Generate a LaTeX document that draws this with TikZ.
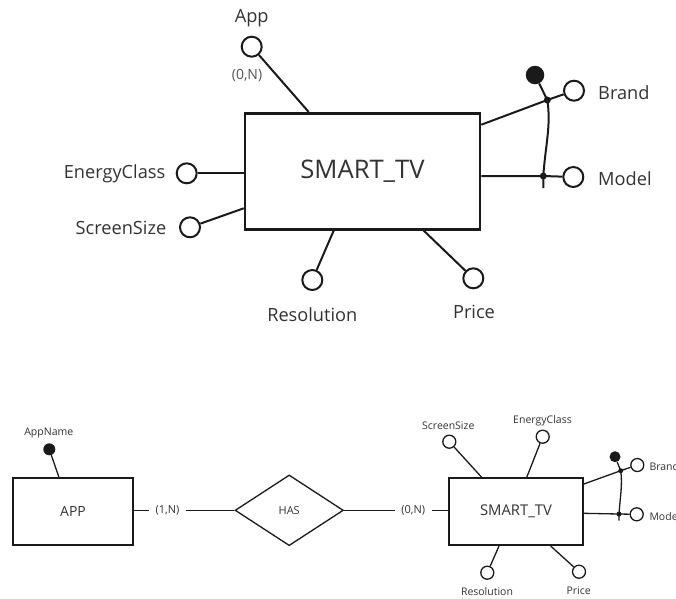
\documentclass[tikz,border=0pt]{standalone}
\usepackage{fontspec}
\setmainfont{Open Sans}
\usetikzlibrary{calc,shapes.geometric}
\definecolor{ink}{HTML}{1A1A1A}
\definecolor{txt}{HTML}{333333}
\definecolor{cardtxt}{HTML}{555555}

\begin{document}
\begin{tikzpicture}[x=1pt,y=-1pt,
  % large schema
  entA/.style={draw=ink, line width=2.6pt, inner sep=0pt, text=txt,
    minimum width=235pt, minimum height=116pt, font=\fontsize{25.6}{28}\selectfont},
  attA/.style={circle, draw=ink, line width=2pt, fill=white, inner sep=0pt, minimum size=20pt},
  keyA/.style={circle, fill=ink, inner sep=0pt, minimum size=18.5pt},
  dotA/.style={circle, fill=ink, inner sep=0pt, minimum size=7pt},
  lblA/.style={text=txt, inner sep=0pt, font=\fontsize{18.2}{21}\selectfont},
  lnkA/.style={draw=ink, line width=2pt},
  % small schema
  entB/.style={draw=ink, line width=2pt, inner sep=0pt, text=txt},
  attB/.style={circle, draw=ink, line width=1.3pt, fill=white, inner sep=0pt, minimum size=13pt},
  keyB/.style={circle, fill=ink, inner sep=0pt, minimum size=12pt},
  dotB/.style={circle, fill=ink, inner sep=0pt, minimum size=5pt},
  lblB/.style={text=txt, inner sep=0pt, font=\fontsize{10.5}{12}\selectfont},
  lnkB/.style={draw=ink, line width=1.3pt},
  cardB/.style={fill=white, text=txt, inner xsep=7pt, inner ysep=2pt, font=\fontsize{11}{13}\selectfont}
]
\clip (0,0) rectangle (676,598);
\fill[white] (0,0) rectangle (676,598);

%% ---------- SMART_TV, detailed ----------
\node[entA] (tv) at (362.5,171.3) {SMART\_TV};

\node[attA] (app) at (251.7,46.7) {};
\node[lblA] (appL) at (251.7,18.3) {App};
\node[text=cardtxt, inner sep=0pt, font=\fontsize{14}{16}\selectfont] (appC) at (247,75.5) {(0,N)};
\draw[lnkA] (app) -- ($(tv.north west)+(65,0)$);

\node[attA] (en) at (186.7,173.3) {};
\node[lblA, anchor=east] (enL) at (165.5,174) {EnergyClass};
\draw[lnkA] (en) -- (tv.west |- en);

\node[attA] (ss) at (190,227.3) {};
\node[lblA, anchor=east] (ssL) at (166.5,227.5) {ScreenSize};
\draw[lnkA] (ss) -- ($(tv.west)+(0,37)$);

\node[attA] (res) at (312.3,280) {};
\node[lblA] (resL) at (312.3,315) {Resolution};
\draw[lnkA] (res) -- ($(tv.south west)+(90,0)$);

\node[attA] (pr) at (473.3,278.3) {};
\node[lblA] (prL) at (474,311.7) {Price};
\draw[lnkA] (pr) -- ($(tv.south west)+(180,0)$);

\node[dotA] (bj) at (547.3,100) {};
\node[dotA] (mj) at (543.3,176) {};
\node[keyA] (key) at (535,75) {};
\node[attA] (br) at (574,90.7) {};
\node[lblA, anchor=west] (brL) at (598,92.7) {Brand};
\node[attA] (mo) at (573.3,177) {};
\node[lblA, anchor=west] (moL) at (598,178.5) {Model};
\draw[lnkA] ($(tv.north east)+(0,12.7)$) -- (bj.center);
\draw[lnkA] (key) -- (bj.center) -- (br);
\draw[lnkA] (tv.east |- mj) -- (mj.center) -- (mo);
\draw[lnkA] (bj.center) .. controls +(4,25) and +(2,-30) .. (mj.center) -- ++(0,12);

%% ---------- APP -- HAS -- SMART_TV ----------
\node[entB, minimum width=119.4pt, minimum height=66.7pt, font=\fontsize{14}{16}\selectfont] (app2) at (73,511.7) {APP};
\node[keyB] (an) at (49.3,449.3) {};
\node[lblB] (anL) at (48.8,433.3) {AppName};
\draw[lnkB] (an) -- ($(app2.north west)+(46.7,0)$);

\node[draw=ink, line width=1.3pt, diamond, inner sep=0pt, minimum width=108.3pt, minimum height=70.7pt,
  text=txt, font=\fontsize{11}{13}\selectfont] (has) at (289.2,510.3) {HAS};

\node[entB, minimum width=133.4pt, minimum height=66.7pt, font=\fontsize{14.8}{17}\selectfont] (tv2) at (516,511.7) {SMART\_TV};

\draw[lnkB] (app2.east |- has) -- (has.west) node[cardB, pos=0.335] {(1,N)};
\draw[lnkB] (has.east) -- (tv2.west |- has) node[cardB, pos=0.664, inner xsep=6.5pt] {(0,N)};

\node[attB] (ss2) at (449.3,441.7) {};
\node[lblB] (ss2L) at (448.3,426) {ScreenSize};
\draw[lnkB] (ss2) -- ($(tv2.north west)+(33.4,0)$);

\node[attB] (en2) at (542.7,436.7) {};
\node[lblB] (en2L) at (542.5,420.7) {EnergyClass};
\draw[lnkB] (en2) -- ($(tv2.north west)+(78.4,0)$);

\node[attB] (res2) at (487.3,572.7) {};
\node[lblB] (res2L) at (487,591.5) {Resolution};
\draw[lnkB] (res2) -- ($(tv2.south west)+(50.7,0)$);

\node[attB] (pr2) at (579,571.7) {};
\node[lblB] (pr2L) at (578.7,590.5) {Price};
\draw[lnkB] (pr2) -- ($(tv2.south west)+(102.4,0)$);

\node[dotB] (bj2) at (620.7,470.7) {};
\node[dotB] (mj2) at (619,514) {};
\node[keyB, minimum size=11pt] (key2) at (615,456.7) {};
\node[attB] (br2) at (637.3,465) {};
\node[lblB, anchor=west] (br2L) at (649.3,466.7) {Brand};
\node[attB] (mo2) at (636.7,514.3) {};
\node[lblB, anchor=west] (mo2L) at (649.3,516.7) {Model};
\draw[lnkB] ($(tv2.north east)+(0,6.7)$) -- (bj2.center);
\draw[lnkB] (key2) -- (bj2.center) -- (br2);
\draw[lnkB] ($(tv2.east)+(0,1.6)$) -- (mj2.center) -- (mo2);
\draw[lnkB] (bj2.center) .. controls +(2,14) and +(1,-16) .. (mj2.center) -- ++(0,6.7);
\end{tikzpicture}
\end{document}
